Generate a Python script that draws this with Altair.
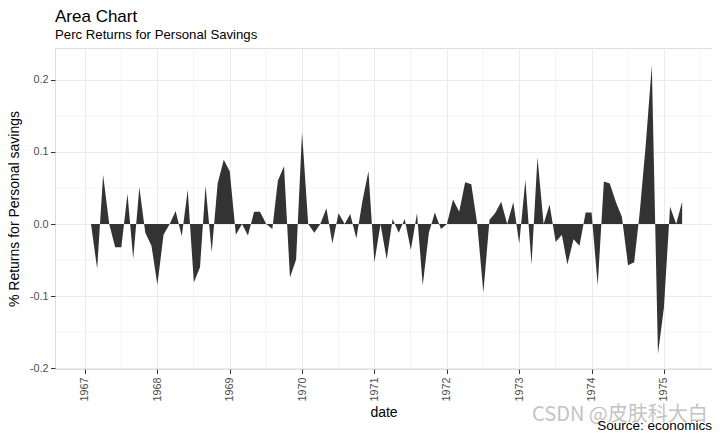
import altair as alt
import pandas as pd

# Monthly % returns of personal savings (economics, first 100 months from 1967-07)
returns_perc = [
    0.0, 0.0, -0.062, 0.068, 0.0, -0.032, -0.032, 0.042, -0.048, 0.051,
    -0.012, -0.030, -0.084, -0.015, 0.0, 0.018, -0.017, 0.047, -0.081, -0.060,
    0.053, -0.039, 0.056, 0.089, 0.073, -0.015, 0.0, -0.016, 0.017, 0.017,
    0.0, -0.007, 0.060, 0.080, -0.074, -0.049, 0.127, 0.0, -0.012, 0.0,
    0.022, -0.027, 0.015, 0.0, 0.014, -0.020, 0.031, 0.073, -0.053, 0.0,
    -0.049, 0.007, -0.012, 0.007, -0.036, 0.015, -0.085, -0.012, 0.016, -0.007,
    0.0, 0.034, 0.017, 0.058, 0.055, 0.0, -0.095, 0.006, 0.015, 0.031,
    0.0, 0.030, -0.027, 0.061, -0.056, 0.092, 0.0, 0.027, -0.025, -0.015,
    -0.056, -0.021, -0.030, 0.016, 0.016, -0.085, 0.059, 0.056, 0.030, 0.010,
    -0.057, -0.053, 0.016, 0.112, 0.220, -0.180, -0.116, 0.024, 0.0, 0.031,
]
first_month = "1967-07-01"
dates = pd.date_range(first_month, periods=len(returns_perc), freq="MS").strftime("%Y-%m-%d").tolist()

tick_years = [1967, 1968, 1969, 1970, 1971, 1972, 1973, 1974, 1975]
tick_dates = [f"{y}-07-01" for y in tick_years]
y_major = [-0.2, -0.1, 0.0, 0.1, 0.2]
y_minor = [-0.15, -0.05, 0.05, 0.15]


def ms(s):
    return int(pd.Timestamp(s, tz="UTC").timestamp() * 1000)


tick_ms = [ms(d) for d in tick_dates]
minor_ms = [(a + b) / 2 for a, b in zip(tick_ms[:-1], tick_ms[1:])]
minor_ms.append(tick_ms[-1] + (tick_ms[-1] - tick_ms[-2]) / 2)
span = ms(dates[-1]) - ms(dates[0])
x_domain = [ms(dates[0]) - span * 0.05, ms(dates[-1]) + span * 0.05]
y_domain = [-0.2008, 0.2438]

df = pd.DataFrame({"date": dates, "ret": returns_perc})
xminor_df = pd.DataFrame({"date": minor_ms})
yminor_df = pd.DataFrame({"ret": y_minor})

FONT = "Liberation Sans"
xscale = alt.Scale(type="utc", domain=x_domain, nice=False)
yscale = alt.Scale(domain=y_domain, nice=False, zero=False)

xaxis = alt.Axis(
    values=tick_ms, labelExpr="utcFormat(datum.value, '%Y')", title="date",
    labelAngle=270, labelAlign="right", labelBaseline="middle",
    labelFont=FONT, labelFontSize=10.8, labelColor="#4D4D4D", labelPadding=3.5,
    tickSize=4.5, tickColor="#333333", domain=False,
    grid=True, gridColor="#EBEBEB", gridWidth=1,
    titleFont=FONT, titleFontSize=14, titleFontWeight="normal", titleColor="black",
    titleY=43, titleBaseline="middle", titleAlign="center",
)
yaxis = alt.Axis(
    values=y_major,
    labelExpr="(datum.value < 0 ? '-' : '') + format(abs(datum.value), '.1f')",
    title="% Returns for Personal savings",
    labelFont=FONT, labelFontSize=10.8, labelColor="#4D4D4D", labelPadding=2.5,
    tickSize=4.5, tickColor="#333333", domain=False,
    grid=True, gridColor="#EBEBEB", gridWidth=1,
    titleFont=FONT, titleFontSize=14, titleFontWeight="normal", titleColor="black",
    titleX=-40.5, titleY=160.5, titleAngle=270, titleBaseline="middle", titleAlign="center",
)

xminor = alt.Chart(xminor_df).mark_rule(color="#EEEEEE", strokeWidth=0.7).encode(
    x=alt.X("date:T", scale=xscale, axis=xaxis)
)
yminor = alt.Chart(yminor_df).mark_rule(color="#EEEEEE", strokeWidth=0.7).encode(
    y=alt.Y("ret:Q", scale=yscale, axis=yaxis)
)
area = alt.Chart(df).mark_area(color="#333333", opacity=1).encode(
    x=alt.X("date:T", scale=xscale, axis=xaxis),
    y=alt.Y("ret:Q", scale=yscale, axis=yaxis),
    y2=alt.datum(0),
)

notes = pd.DataFrame({"wm": ["CSDN @皮肤科大白"], "cap": ["Source: economics"]})
watermark = alt.Chart(notes).mark_text(
    align="left", baseline="middle", font="Noto Sans CJK SC", fontSize=20,
    color="#BDBDBD", opacity=0.9,
).encode(text="wm:N", x=alt.value(477), y=alt.value(367))
caption = alt.Chart(notes).mark_text(
    align="right", baseline="alphabetic", font=FONT, fontSize=13.5, color="black",
).encode(text="cap:N", x=alt.value(657), y=alt.value(382))

chart = alt.layer(xminor, yminor, area, watermark, caption).properties(
    width=657,
    height=321,
    autosize=alt.AutoSizeParams(type="none"),
    padding={"left": 47, "top": 40, "right": 0, "bottom": 64},
    title=alt.TitleParams(
        text="Area Chart", subtitle="Perc Returns for Personal Savings",
        anchor="start", font=FONT, fontSize=17, fontWeight="normal", color="black",
        subtitleFont=FONT, subtitleFontSize=13.2, subtitleColor="black",
        subtitlePadding=2.6, offset=5.9, frame="group",
    ),
).configure_view(stroke="#5A5A5A", strokeWidth=1).configure(background="white")

chart.save("out.html", embed_options={"renderer": "svg", "actions": False})
